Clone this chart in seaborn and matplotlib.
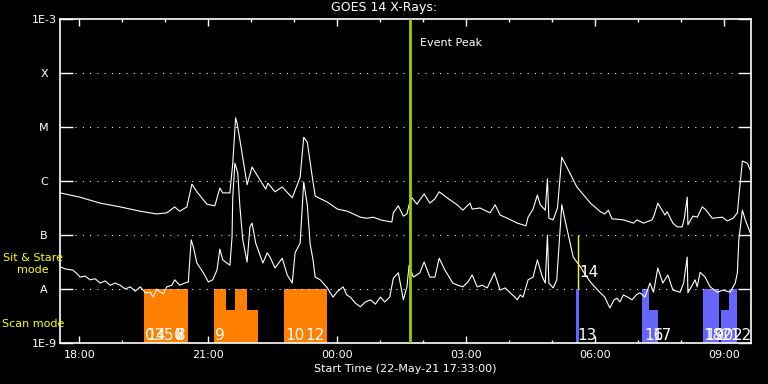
import numpy as np
import pandas as pd
import matplotlib
matplotlib.use("Agg")
import matplotlib.pyplot as plt
import matplotlib.ticker as mticker
import seaborn as sns

START = "17:33"
level_flux = [1e-9, 1e-8, 1e-7, 1e-6, 1e-5, 1e-4, 1e-3]
level_labels = ["1E-9", "A", "B", "C", "M", "X", "1E-3"]
hour_labels = ["18:00", "21:00", "00:00", "03:00", "06:00", "09:00"]
event_peak = "01:41"
stare_time = "05:36"

# GOES long channel (1-8 A): minutes after start, log10 flux
long_t = [0, 28, 56, 84, 112, 135, 149, 160, 167, 177, 184, 191, 205, 216, 223,
          227, 237, 241, 245, 247, 251, 261, 268, 272, 287, 290, 300, 310, 324, 331,
          335, 340, 345, 352, 356, 373, 387, 401, 419, 428, 437, 447, 463, 465, 472,
          479, 484, 487, 491, 498, 502, 508, 516, 523, 529, 540, 554, 562, 572, 575,
          586, 600, 607, 614, 624, 638, 650, 653, 660, 666, 670, 677, 680, 682, 688,
          694, 700, 707, 721, 740, 754, 760, 765, 770, 786, 800, 805, 814, 826, 829,
          834, 844, 847, 855, 861, 868, 871, 875, 876, 883, 889, 896, 900, 910, 924,
          931, 939, 945, 947, 952, 959, 963]
long_log = [-6.22, -6.30, -6.41, -6.48, -6.56, -6.61, -6.59, -6.48, -6.56, -6.48,
            -6.06, -6.20, -6.43, -6.46, -6.13, -6.22, -6.22, -5.67, -4.83, -4.93,
            -5.24, -6.07, -5.74, -5.83, -6.15, -6.04, -6.20, -6.11, -6.31, -6.07,
            -5.93, -5.19, -5.28, -5.93, -6.28, -6.39, -6.52, -6.56, -6.67, -6.69,
            -6.67, -6.72, -6.76, -6.59, -6.46, -6.65, -6.61, -6.44, -6.31, -6.43,
            -6.35, -6.24, -6.41, -6.33, -6.20, -6.31, -6.44, -6.54, -6.41, -6.52,
            -6.50, -6.59, -6.44, -6.63, -6.69, -6.78, -6.83, -6.67, -6.52, -6.26,
            -6.44, -6.54, -5.96, -6.69, -6.72, -6.50, -5.56, -5.74, -6.11, -6.41,
            -6.57, -6.61, -6.54, -6.70, -6.72, -6.78, -6.72, -6.78, -6.72, -6.63,
            -6.41, -6.63, -6.57, -6.78, -6.85, -6.85, -6.69, -6.30, -6.81, -6.65,
            -6.67, -6.48, -6.52, -6.69, -6.67, -6.74, -6.69, -6.59, -6.30, -5.63,
            -5.67, -5.80]

# GOES short channel (0.5-4 A)
short_t = [0, 8, 18, 24, 28, 35, 42, 49, 56, 63, 70, 77, 84, 91, 98, 105, 112, 119,
           126, 130, 135, 140, 144, 149, 156, 160, 167, 174, 179, 183, 186, 191, 200,
           207, 213, 219, 223, 227, 237, 240, 241, 244, 248, 251, 255, 261, 265, 268,
           273, 283, 289, 293, 300, 310, 317, 324, 328, 335, 340, 345, 349, 353, 356,
           363, 373, 377, 381, 386, 395, 400, 405, 412, 419, 426, 433, 440, 447, 453,
           460, 465, 472, 479, 484, 487, 493, 502, 508, 516, 523, 529, 537, 548, 555,
           562, 569, 575, 582, 589, 596, 606, 614, 621, 628, 633, 638, 642, 646, 653,
           660, 666, 673, 677, 680, 682, 688, 693, 700, 707, 716, 726, 733, 740, 746,
           753, 760, 767, 773, 777, 781, 786, 792, 798, 804, 809, 816, 823, 828, 834,
           841, 848, 855, 865, 870, 875, 876, 882, 886, 889, 893, 900, 907, 917, 925,
           935, 942, 945, 947, 952, 956, 963]
short_log = [-7.59, -7.63, -7.65, -7.72, -7.78, -7.76, -7.83, -7.81, -7.89, -7.85,
             -7.93, -7.89, -7.93, -8.00, -7.96, -8.04, -7.96, -8.07, -8.06, -8.15,
             -8.00, -8.06, -8.09, -7.96, -7.93, -7.83, -7.93, -7.89, -7.87, -7.09,
             -7.22, -7.52, -7.70, -7.87, -7.83, -7.65, -7.26, -7.46, -7.56, -7.04,
             -6.30, -5.67, -5.85, -6.48, -7.09, -7.50, -6.85, -6.78, -7.15, -7.52,
             -7.33, -7.41, -7.61, -7.43, -7.74, -7.89, -7.33, -7.15, -6.02, -6.44,
             -7.17, -7.46, -7.78, -7.83, -7.98, -8.07, -8.15, -8.06, -7.96, -8.11,
             -8.15, -8.26, -8.33, -8.24, -8.20, -8.28, -8.15, -8.24, -8.15, -7.80,
             -7.70, -8.20, -7.96, -7.56, -7.78, -7.70, -7.50, -7.78, -7.78, -7.43,
             -7.65, -7.89, -7.93, -7.96, -7.87, -7.74, -7.96, -7.93, -7.98, -7.70,
             -8.02, -7.98, -8.07, -8.13, -8.20, -8.11, -8.15, -7.83, -7.78, -7.46,
             -7.78, -7.89, -7.00, -7.89, -7.98, -7.83, -6.44, -6.87, -7.41, -7.59,
             -7.74, -7.87, -7.96, -8.06, -8.15, -8.35, -8.20, -8.17, -8.24, -8.11,
             -8.15, -8.20, -8.11, -8.07, -8.15, -7.89, -8.06, -7.61, -7.89, -7.74,
             -8.02, -8.06, -7.89, -7.41, -8.07, -7.93, -7.83, -7.96, -7.69, -7.78,
             -7.96, -8.06, -8.02, -8.06, -7.89, -7.70, -7.09, -6.54, -6.72, -6.96]

# scan mode raster blocks: start, end (minutes), top flux
orange_start = [117, 215, 232, 244, 261, 313]
orange_end = [179, 232, 244, 261, 276, 373]
orange_top = [1e-8, 1e-8, 4.1e-9, 1e-8, 4.1e-9, 1e-8]
blue_start = [720, 812, 822, 897, 922, 933]
blue_end = [724, 822, 834, 920, 933, 945]
blue_top = [1e-8, 1e-8, 4.1e-9, 1e-8, 4.1e-9, 1e-8]

scan_labels = ["0", "1", "3", "4", "5", "6", "7", "8", "9", "10", "12", "13",
               "16", "17", "18", "19", "20", "21", "22"]
scan_label_t = [119, 120, 131, 133, 145, 159, 160, 162, 216, 314, 342, 721,
                815, 827, 897, 900, 914, 924, 939]
stare_label = "14"
stare_label_flux = 2.05e-8


def minutes(hhmm):
    h, m = map(int, hhmm.split(":"))
    sh, sm = map(int, START.split(":"))
    return (h * 60 + m - (sh * 60 + sm)) % 1440


sns.set_style("dark", {"axes.facecolor": "black", "figure.facecolor": "black",
                       "axes.edgecolor": "white", "text.color": "white",
                       "xtick.color": "white", "ytick.color": "white"})
plt.rcParams["font.family"] = ["DejaVu Sans"]

fig = plt.figure(figsize=(7.68, 3.84), dpi=100, facecolor="black")
ax = fig.add_axes([60 / 768, 41 / 384, 691 / 768, 324 / 384])
ax.set_facecolor("black")
ax.set_yscale("log")

for s, e, top in zip(orange_start, orange_end, orange_top):
    ax.bar(s, top - 1e-9, width=e - s, bottom=1e-9, align="edge",
           color="#ff8000", lw=0, zorder=1)
for s, e, top in zip(blue_start, blue_end, blue_top):
    ax.bar(s, top - 1e-9, width=e - s, bottom=1e-9, align="edge",
           color="#6666ff", lw=0, zorder=1)

for v in level_flux[1:-1]:
    ax.axhline(v, xmin=15 / 691, xmax=1 - 14 / 691, color="white", lw=0.75,
               ls=(0, (1, 6)), zorder=2)

long_df = pd.DataFrame({"t": long_t, "flux": 10.0 ** np.array(long_log)})
short_df = pd.DataFrame({"t": short_t, "flux": 10.0 ** np.array(short_log)})
sns.lineplot(data=long_df, x="t", y="flux", color="white", lw=0.8,
             estimator=None, ax=ax, zorder=3)
sns.lineplot(data=short_df, x="t", y="flux", color="white", lw=0.8,
             estimator=None, ax=ax, zorder=3)

ev = minutes(event_peak)
ax.axvline(ev, color="#9acd00", lw=2, zorder=4)
ax.text(ev + 14, 10 ** -3.44, "Event Peak", color="white", fontsize=8, va="center")

st = minutes(stare_time)
ax.vlines(st, 1e-8, 1e-7, color="#ffff00", lw=1, zorder=4)
ax.text(st + 2, stare_label_flux, stare_label, color="white", fontsize=11,
        va="center", zorder=5)

trans = ax.get_xaxis_transform()
for lab, t in zip(scan_labels, scan_label_t):
    ax.text(t, 0.01, lab, transform=trans, color="white", fontsize=11,
            va="baseline", ha="left", zorder=5)

ax.set_xlim(0, 964)
ax.set_ylim(level_flux[0], level_flux[-1])
ax.set_yticks(level_flux, level_labels)
ax.yaxis.set_minor_locator(mticker.NullLocator())
ax.tick_params(axis="y", which="major", direction="in", length=9.4, width=1,
               colors="white", left=True, right=True, pad=11.5, labelsize=8)
for lbl in ax.get_yticklabels():
    lbl.set_horizontalalignment("center")

major_t = [minutes(h) for h in hour_labels]
ax.set_xticks(major_t, hour_labels)
ax.xaxis.set_minor_locator(mticker.FixedLocator(np.arange(major_t[0] % 60, 964, 60)))
ax.tick_params(axis="x", which="major", direction="in", length=5, width=1,
               colors="white", bottom=True, top=True, pad=5, labelsize=8)
ax.tick_params(axis="x", which="minor", direction="in", length=2.5, width=1,
               colors="white", bottom=True, top=True)

ax.set_xlabel("Start Time (22-May-21 17:33:00)", color="white", fontsize=8,
              labelpad=3)
ax.set_ylabel("")
ax.grid(False)
for sp in ax.spines.values():
    sp.set_color("white")
    sp.set_linewidth(1.2)

fig.text(384 / 768, 1 - 8 / 384, "GOES 14 X-Rays:", color="white", fontsize=9,
         ha="center", va="center")
fig.text(33 / 768, 1 - 258 / 384, "Sit & Stare", color="#ffff00", fontsize=8,
         ha="center", va="center")
fig.text(33 / 768, 1 - 270 / 384, "mode", color="#ffff00", fontsize=8,
         ha="center", va="center")
fig.text(2 / 768, 1 - 324 / 384, "Scan mode", color="#ffff00", fontsize=8,
         ha="left", va="center")

fig.savefig("out.png", dpi=100, facecolor="black")
